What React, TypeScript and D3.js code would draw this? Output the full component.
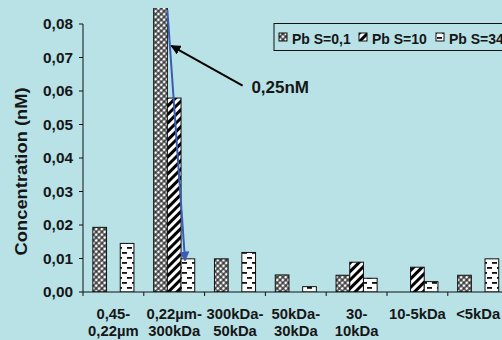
import React from "react";
import * as d3 from "d3";

const categories = ["0,45-0,22µm", "0,22µm-300kDa", "300kDa-50kDa", "50kDa-30kDa", "30-10kDa", "10-5kDa", "<5kDa"];
const categoryLines = [["0,45-", "0,22µm"], ["0,22µm-", "300kDa"], ["300kDa-", "50kDa"], ["50kDa-", "30kDa"], ["30-", "10kDa"], ["10-5kDa"], ["<5kDa"]];
const seriesNames = ["Pb S=0,1", "Pb S=10", "Pb S=34"];
const pbS01 = [0.0193, 0.25, 0.0099, 0.0051, 0.005, null, 0.005];
const pbS10 = [null, 0.0579, null, null, 0.0089, 0.0074, null];
const pbS34 = [0.0145, 0.0099, 0.0118, 0.0016, 0.0041, 0.0031, 0.0099];
const yTicks = [0, 0.01, 0.02, 0.03, 0.04, 0.05, 0.06, 0.07, 0.08];
const annotationText = "0,25nM";

const W = 502, H = 340;
const BG = "#b8e2e6";
const FONT = "'Liberation Sans', Arial, sans-serif";
const INK = "#161616";

export default function App() {
  const series = [pbS01, pbS10, pbS34];
  const x0 = d3.scaleBand<string>().domain(categories).range([83, 83 + 7 * 60.8]).paddingInner(0).paddingOuter(0);
  const x1 = d3.scaleBand<string>().domain(seriesNames).range([0, x0.bandwidth()]).paddingInner(0).paddingOuter(0.72);
  const y = d3.scaleLinear().domain([0, 0.08]).range([292, 24]);
  const fills = ["url(#pDots)", "url(#pDiag)", "url(#pDash)"];
  const plotTop = 8;

  const fmt = (v: number) => d3.format(".2f")(v).replace(".", ",");

  const c2 = categories[1];
  const blueStart: [number, number] = [x0(c2)! + x1(seriesNames[1])!, plotTop + 2];
  const blueEnd: [number, number] = [x0(c2)! + x1(seriesNames[2])! + 4, y(pbS34[1]! - 0.0005)];
  const blackTip: [number, number] = [x0(c2)! + x1(seriesNames[1])! + 4, y(0.0735)];
  const blackTail: [number, number] = [x0(categories[2])! + 38, y(0.0616)];

  return (
    <svg width={W} height={H} style={{ position: "absolute", left: 0, top: 0, display: "block" }}>
      <defs>
        <pattern id="pDots" width={4} height={4} patternUnits="userSpaceOnUse" patternTransform="rotate(45)">
          <rect width={4} height={4} fill="#3a3a3a" />
          <circle cx={2} cy={2} r={1.4} fill="#ffffff" />
        </pattern>
        <pattern id="pDiag" width={6} height={6} patternUnits="userSpaceOnUse" patternTransform="rotate(45)">
          <rect width={6} height={6} fill="#ffffff" />
          <rect width={3} height={6} fill="#000000" />
        </pattern>
        <pattern id="pDash" width={10} height={10} patternUnits="userSpaceOnUse">
          <rect width={10} height={10} fill="#ffffff" />
          <rect x={2} y={2} width={5} height={1.8} fill="#111" />
          <rect x={7} y={7} width={5} height={1.8} fill="#111" />
          <rect x={-3} y={7} width={5} height={1.8} fill="#111" />
        </pattern>
        <clipPath id="plotClip">
          <rect x={83} y={plotTop} width={W} height={292 - plotTop} />
        </clipPath>
        <marker id="arrBlack" viewBox="0 0 10 10" refX={9} refY={5} markerWidth={5} markerHeight={5} orient="auto">
          <path d="M0,0 L10,5 L0,10 z" fill="#000" />
        </marker>
        <marker id="arrBlue" viewBox="0 0 10 10" refX={9} refY={5} markerWidth={5} markerHeight={5} orient="auto">
          <path d="M0,0 L10,5 L0,10 z" fill="#3a5cb4" />
        </marker>
      </defs>
      <rect width={W} height={H} fill={BG} />

      <g clipPath="url(#plotClip)">
        {series.map((vals, si) =>
          vals.map((v, ci) =>
            v == null ? null : (
              <rect
                key={`${si}-${ci}`}
                x={x0(categories[ci])! + x1(seriesNames[si])!}
                y={y(v)}
                width={x1.bandwidth()}
                height={y(0) - y(v)}
                fill={fills[si]}
                stroke="#111"
                strokeWidth={1}
              />
            )
          )
        )}
      </g>

      <line x1={83} x2={83} y1={y(0.08)} y2={296} stroke="#111" strokeWidth={1} />
      {yTicks.map((t) => (
        <g key={t}>
          <line x1={79} x2={83} y1={y(t)} y2={y(t)} stroke="#111" strokeWidth={1} />
          <text
            transform={`translate(73,${y(t) + 5}) scale(1.1,1)`}
            textAnchor="end"
            fontFamily={FONT}
            fontWeight="bold"
            fontSize={14}
            fill={INK}
          >
            {fmt(t)}
          </text>
        </g>
      ))}
      <text
        transform={`translate(27,${y(0.036)}) rotate(-90)`}
        textAnchor="middle"
        fontFamily={FONT}
        fontWeight="bold"
        fontSize={16}
        fill={INK}
        textLength={168}
        lengthAdjust="spacingAndGlyphs"
      >
        Concentration (nM)
      </text>

      <line x1={83} x2={W} y1={y(0)} y2={y(0)} stroke="#111" strokeWidth={1} />
      {categories.map((c) => (
        <line key={c} x1={x0(c)! + x0.bandwidth()} x2={x0(c)! + x0.bandwidth()} y1={y(0)} y2={y(0) + 4} stroke="#111" strokeWidth={1} />
      ))}
      {categories.map((c, i) => (
        <g key={c} transform={`translate(${x0(c)! + x0.bandwidth() / 2},0) scale(1.06,1)`}>
          <text textAnchor="middle" fontFamily={FONT} fontWeight="bold" fontSize={14} fill={INK}>
            {categoryLines[i].map((ln, li) => (
              <tspan key={li} x={0} y={319 + li * 17}>
                {ln}
              </tspan>
            ))}
          </text>
        </g>
      ))}

      <line x1={blueStart[0]} y1={blueStart[1]} x2={blueEnd[0]} y2={blueEnd[1]} stroke="#3a5cb4" strokeWidth={2} markerEnd="url(#arrBlue)" />
      <line x1={blackTail[0]} y1={blackTail[1]} x2={blackTip[0]} y2={blackTip[1]} stroke="#000" strokeWidth={2} markerEnd="url(#arrBlack)" />
      <text x={x0(categories[3])! - 14} y={y(0.0595)} fontFamily={FONT} fontWeight="bold" fontSize={17} fill={INK}>
        {annotationText}
      </text>

      <rect x={274} y={23.5} width={260} height={27} fill="none" stroke="#111" strokeWidth={1} />
      {seriesNames.map((s, i) => {
        const lx = [279, 359, 436][i];
        return (
          <g key={s}>
            <rect x={lx} y={33} width={8} height={8} fill={fills[i]} stroke="#111" strokeWidth={1} />
            <text x={lx + 13} y={43.5} fontFamily={FONT} fontWeight="bold" fontSize={14} fill={INK}>
              {s}
            </text>
          </g>
        );
      })}
    </svg>
  );
}
